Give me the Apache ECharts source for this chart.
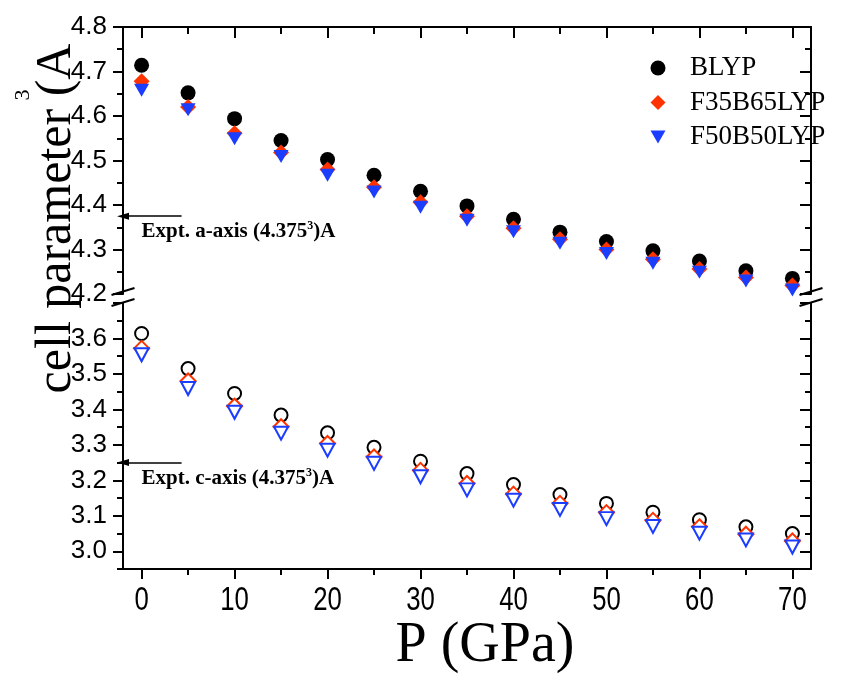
<!DOCTYPE html>
<html>
<head>
<meta charset="utf-8">
<script src="https://cdn.jsdelivr.net/npm/echarts@6/dist/echarts.min.js"></script>
<style>
  html, body { margin: 0; padding: 0; background: #fff; }
  #chart { width: 844px; height: 674px; }
</style>
</head>
<body>
<div id="chart"></div>
<script>
// Pressure points (GPa)
const pressure = [0, 5, 10, 15, 20, 25, 30, 35, 40, 45, 50, 55, 60, 65, 70];

// a-axis lattice parameter (upper panel)
const aBLYP = [4.714, 4.652, 4.594, 4.545, 4.502, 4.467, 4.431, 4.398, 4.368, 4.339, 4.318, 4.297, 4.274, 4.252, 4.235];
const aF35  = [4.678, 4.620, 4.561, 4.518, 4.480, 4.440, 4.406, 4.375, 4.348, 4.323, 4.300, 4.278, 4.256, 4.237, 4.219];
const aF50  = [4.658, 4.614, 4.549, 4.509, 4.467, 4.429, 4.395, 4.366, 4.340, 4.314, 4.291, 4.269, 4.249, 4.229, 4.209];

// c-axis lattice parameter (lower panel)
const cBLYP = [3.614, 3.515, 3.445, 3.384, 3.334, 3.293, 3.254, 3.219, 3.188, 3.160, 3.135, 3.110, 3.089, 3.069, 3.050];
const cF35  = [3.572, 3.480, 3.409, 3.351, 3.304, 3.266, 3.228, 3.191, 3.161, 3.135, 3.109, 3.087, 3.069, 3.048, 3.029];
const cF50  = [3.554, 3.459, 3.392, 3.333, 3.285, 3.248, 3.210, 3.173, 3.144, 3.118, 3.092, 3.070, 3.051, 3.032, 3.012];

// Experimental reference values marked by arrows
const EXPT_A = 4.375;
const EXPT_C = 3.25;

// Ticks
const xMajor = [0, 10, 20, 30, 40, 50, 60, 70];
const xMinor = [5, 15, 25, 35, 45, 55, 65];
const aMajor = [4.2, 4.3, 4.4, 4.5, 4.6, 4.7, 4.8];
const aMinor = [4.25, 4.35, 4.45, 4.55, 4.65, 4.75];
const cMajor = [3.0, 3.1, 3.2, 3.3, 3.4, 3.5, 3.6, 3.7];
const cMinor = [2.95, 3.05, 3.15, 3.25, 3.35, 3.45, 3.55, 3.65];
const cLabels = [3.0, 3.1, 3.2, 3.3, 3.4, 3.5, 3.6];

const SERIF = '"Liberation Serif", "Times New Roman", serif';
const SANS = '"Liberation Sans", Arial, sans-serif';

const RED = '#ff3300';
const BLUE = '#1a3dff';
const TRI_DOWN = 'path://M0,0L14,0L7,12Z';

const chart = echarts.init(document.getElementById('chart'), null, { renderer: 'canvas' });

const black = { color: '#000', width: 2 };

function xAxisDef(grid, position, ticks, len, inside, withLine) {
  return {
    type: 'value', gridIndex: grid, position: position, min: -2, max: 72,
    splitLine: { show: false },
    axisLine: { show: withLine, onZero: false, lineStyle: black },
    axisTick: { show: true, inside: inside, length: len, customValues: ticks, lineStyle: black },
    axisLabel: { show: false }
  };
}

function yAxisDef(grid, position, min, max, ticks, len, inside, withLine, labels) {
  return {
    type: 'value', gridIndex: grid, position: position, min: min, max: max,
    splitLine: { show: false },
    axisLine: { show: withLine, onZero: false, lineStyle: black },
    axisTick: { show: true, inside: inside, length: len, customValues: ticks, lineStyle: black },
    axisLabel: labels ? {
      show: true, customValues: labels, margin: 16, color: '#000',
      fontFamily: SANS, fontSize: 26, formatter: v => v.toFixed(1)
    } : { show: false }
  };
}

function pts(values) {
  return pressure.map((p, i) => [p, values[i]]);
}

function series(name, values, xi, yi, symbol, size, itemStyle, extra) {
  return Object.assign({
    name: name, type: 'scatter', xAxisIndex: xi, yAxisIndex: yi,
    symbol: symbol, symbolSize: size, data: pts(values),
    itemStyle: Object.assign({ opacity: 1 }, itemStyle), silent: true, animation: false
  }, extra || {});
}

function arrowTo(value) {
  return {
    silent: true, animation: false,
    symbol: ['none', 'triangle'], symbolSize: [7, 12],
    lineStyle: { color: '#000', width: 1.5, type: 'solid', opacity: 1 },
    label: { show: false },
    data: [[{ coord: [4.3, value] }, { coord: [-2, value] }]]
  };
}

const openStyle = c => ({ color: '#fff', borderColor: c, borderWidth: 2 });

chart.setOption({
  backgroundColor: '#fff',
  animation: false,
  grid: [
    { left: 123, right: 33, top: 27, height: 267 },
    { left: 123, right: 33, top: 303, height: 266 }
  ],
  xAxis: [
    xAxisDef(0, 'top', xMajor, 11, true, true),
    xAxisDef(0, 'top', xMinor, 7, true, false),
    xAxisDef(1, 'bottom', xMajor, 10, false, true),
    xAxisDef(1, 'bottom', xMinor, 6, false, false)
  ],
  yAxis: [
    yAxisDef(0, 'left', 4.2, 4.8, aMajor, 10, false, true, aMajor),
    yAxisDef(0, 'left', 4.2, 4.8, aMinor, 6, false, false, null),
    yAxisDef(0, 'right', 4.2, 4.8, aMajor, 11, true, true, null),
    yAxisDef(0, 'right', 4.2, 4.8, aMinor, 6, true, false, null),
    yAxisDef(1, 'left', 2.95, 3.7, cMajor, 10, false, true, cLabels),
    yAxisDef(1, 'left', 2.95, 3.7, cMinor, 6, false, false, null),
    yAxisDef(1, 'right', 2.95, 3.7, cMajor, 11, true, true, null),
    yAxisDef(1, 'right', 2.95, 3.7, cMinor, 6, true, false, null)
  ],
  legend: {
    orient: 'vertical', left: 650.5, top: 54.5, padding: 0,
    itemWidth: 15, itemHeight: 15, itemGap: 7.5, selectedMode: false,
    textStyle: { fontFamily: SERIF, fontSize: 27, color: '#000', lineHeight: 27, padding: [0, 0, 0, 19.5] },
    data: [
      { name: 'BLYP', icon: 'circle' },
      { name: 'F35B65LYP', icon: 'diamond' },
      { name: 'F50B50LYP', icon: TRI_DOWN }
    ]
  },
  series: [
    series('BLYP', aBLYP, 0, 0, 'circle', 15, { color: '#000' }, { markLine: arrowTo(EXPT_A) }),
    series('F35B65LYP', aF35, 0, 0, 'diamond', 16, { color: RED }),
    series('F50B50LYP', aF50, 0, 0, TRI_DOWN, [15, 13], { color: BLUE }),
    series('BLYP', cBLYP, 2, 4, 'circle', 13, openStyle('#000'), { markLine: arrowTo(EXPT_C) }),
    series('F35B65LYP', cF35, 2, 4, 'diamond', 15, openStyle(RED)),
    series('F50B50LYP', cF50, 2, 4, TRI_DOWN, [14, 13], openStyle(BLUE))
  ]
});

// Annotations, axis titles, tick labels and axis-break marks placed from the axis scales
const pA = chart.convertToPixel({ seriesIndex: 0 }, [0, EXPT_A]);
const pC = chart.convertToPixel({ seriesIndex: 3 }, [0, EXPT_C]);
const topBottom = chart.convertToPixel({ seriesIndex: 0 }, [-2, 4.2]);
const topBottomR = chart.convertToPixel({ seriesIndex: 0 }, [72, 4.2]);
const lowTop = chart.convertToPixel({ seriesIndex: 3 }, [-2, 3.7]);

function exptText(label, p) {
  return {
    type: 'text', x: p[0], y: p[1] + 4, silent: true,
    style: {
      text: '{m|' + label + ' (4.375}{s|3}{m|)A}',
      rich: {
        m: { fontFamily: SERIF, fontWeight: 'bold', fontSize: 21, fill: '#000' },
        s: { fontFamily: SERIF, fontWeight: 'bold', fontSize: 12, fill: '#000', padding: [0, 0, 11, 0] }
      },
      textVerticalAlign: 'top'
    }
  };
}

function breakMarks(x) {
  const mk = (cy) => ({
    type: 'line', silent: true,
    shape: { x1: x - 11.5, y1: cy + 3.5, x2: x + 11.5, y2: cy - 3.5 },
    style: { stroke: '#000', lineWidth: 2 }
  });
  return [mk(topBottom[1] - 2.5), mk(lowTop[1] - 0.5)];
}

// Condensed pressure tick labels under the lower panel
const xTickLabels = xMajor.map(v => {
  const p = chart.convertToPixel({ seriesIndex: 3 }, [v, 2.95]);
  return {
    type: 'text', x: p[0], y: p[1] + 32, scaleX: 0.78, silent: true,
    style: { text: String(v), fontFamily: SANS, fontSize: 33, fill: '#000',
             textAlign: 'center', textVerticalAlign: 'middle' }
  };
});

chart.setOption({
  graphic: [
    exptText('Expt. a-axis', pA),
    exptText('Expt. c-axis', pC),
    ...breakMarks(topBottom[0]),
    ...breakMarks(topBottomR[0]),
    ...xTickLabels,
    {
      type: 'text', x: 57, y: 218.5, rotation: Math.PI / 2, silent: true,
      style: { text: 'cell parameter (A', fontFamily: SERIF, fontSize: 50, fill: '#000',
               textAlign: 'center', textVerticalAlign: 'middle' }
    },
    {
      type: 'text', x: 23, y: 95, rotation: Math.PI / 2, silent: true,
      style: { text: '3', fontFamily: SERIF, fontSize: 22, fill: '#000',
               textAlign: 'center', textVerticalAlign: 'middle' }
    },
    {
      type: 'text', x: 485, y: 646, silent: true,
      style: { text: 'P (GPa)', fontFamily: SERIF, fontSize: 56, fill: '#000',
               textAlign: 'center', textVerticalAlign: 'middle' }
    }
  ]
});
</script>
</body>
</html>
